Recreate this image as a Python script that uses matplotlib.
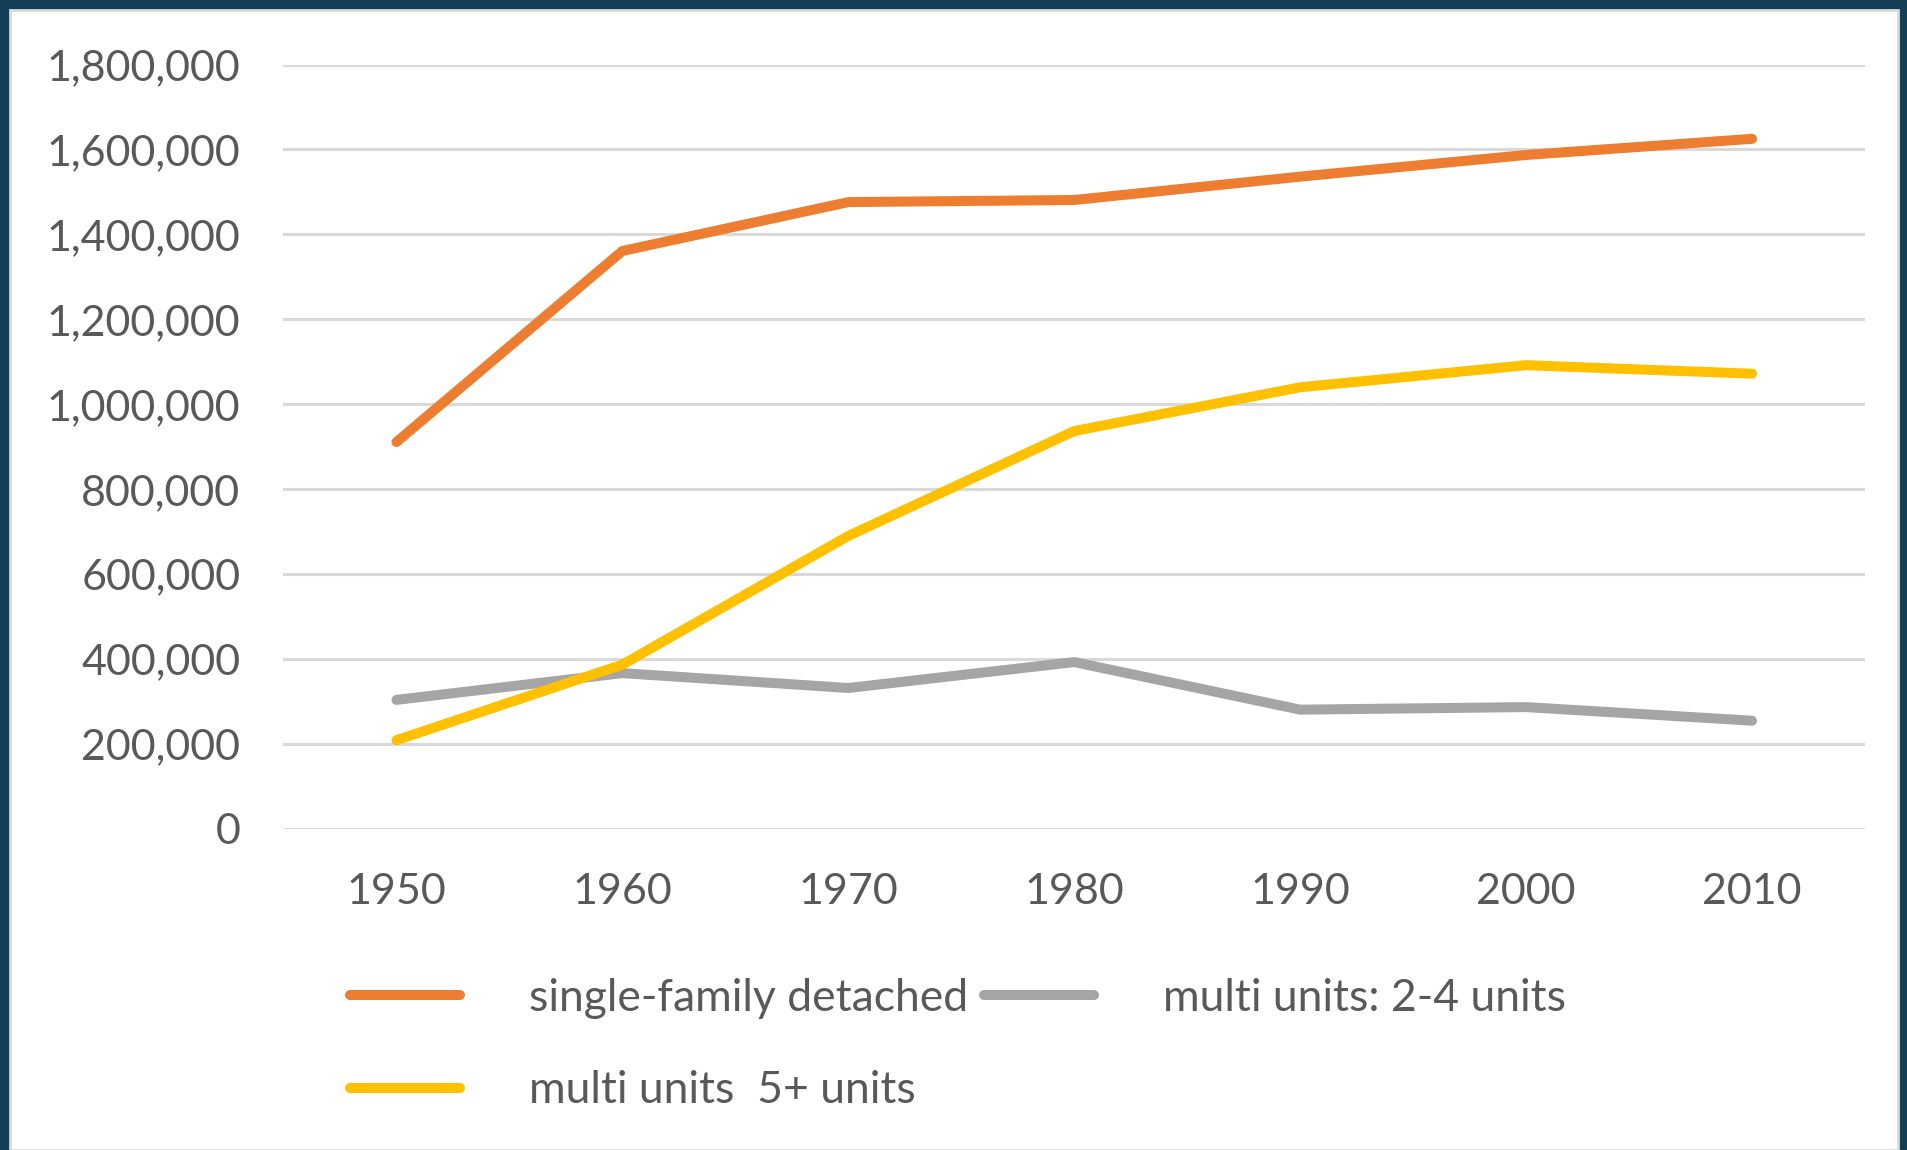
import matplotlib
matplotlib.use("Agg")
import matplotlib.pyplot as plt
from matplotlib.patches import Rectangle
from matplotlib.ticker import FuncFormatter

# -------------------------------------------------
# DATA
# -------------------------------------------------
years = ["1950", "1960", "1970", "1980", "1990", "2000", "2010"]
single_family = [911000, 1361000, 1476000, 1481000, 1536000, 1587000, 1625000]
multi_2_4 = [304000, 367000, 332000, 393000, 281000, 287000, 255000]
multi_5_plus = [209000, 387000, 690000, 937000, 1040000, 1092000, 1072000]

labels = ["single-family detached", "multi units: 2-4 units", "multi units  5+ units"]

# -------------------------------------------------
# STYLE
# -------------------------------------------------
plt.rcParams.update({
    "font.family": ["Lato", "DejaVu Sans"],
    "font.size": 31,
})
TEXT = "#595959"

fig = plt.figure(figsize=(19.08, 11.5), dpi=100)
fig.patch.set_facecolor("#123f57")
# white panel inside the dark frame
fig.add_artist(Rectangle((10 / 1908, 0), 1888 / 1908, 1140 / 1150,
                         transform=fig.transFigure, facecolor="white",
                         edgecolor="#d9d9d9", linewidth=2, zorder=0))

ax = fig.add_axes([283.5 / 1908, 1 - 829 / 1150, (1865 - 283.5) / 1908, (829 - 64.5) / 1150])
ax.set_facecolor("none")

x = list(range(len(years)))
lw = 7.2
l1, = ax.plot(x, single_family, color="#ED7D31", lw=lw, solid_capstyle="round",
              solid_joinstyle="round", zorder=3)
l2, = ax.plot(x, multi_2_4, color="#A5A5A5", lw=lw, solid_capstyle="round",
              solid_joinstyle="round", zorder=3)
l3, = ax.plot(x, multi_5_plus, color="#FFC000", lw=lw, solid_capstyle="round",
              solid_joinstyle="round", zorder=3)

ax.set_xlim(-0.5, len(years) - 0.5)
ax.set_ylim(0, 1800000)
ax.set_yticks(range(0, 1800001, 200000))
ax.yaxis.set_major_formatter(FuncFormatter(lambda v, p: f"{int(v):,}"))
ax.set_xticks(x)
ax.set_xticklabels(years)

ax.grid(axis="y", color="#d9d9d9", linewidth=2.2, zorder=1)
ax.set_axisbelow(True)
for s in ax.spines.values():
    s.set_visible(False)
ax.tick_params(axis="both", length=0, colors=TEXT, labelsize=31)
ax.tick_params(axis="y", pad=31)
ax.tick_params(axis="x", pad=32)

# legend: column 1 = orange, yellow; column 2 = gray
fig.legend([l1, l3, l2], [labels[0], labels[2], labels[1]],
           ncol=2, loc="upper left", bbox_to_anchor=(350 / 1908, 1 - 978 / 1150),
           frameon=False, fontsize=32, labelcolor=TEXT,
           handlelength=2.48, handletextpad=1.55, columnspacing=0.35,
           labelspacing=1.15, borderpad=0, borderaxespad=0)

fig.savefig("out.png", dpi=100, facecolor=fig.get_facecolor())
